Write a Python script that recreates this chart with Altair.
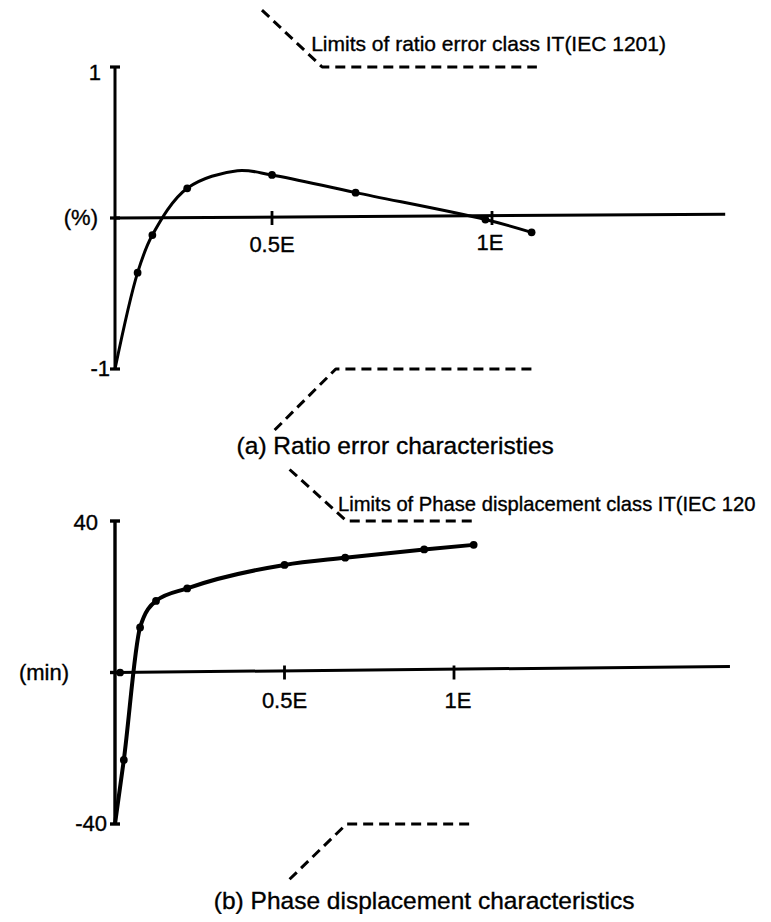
import altair as alt
import pandas as pd

FONT = "Liberation Sans"

# ---------------- Panel (a): ratio error ----------------
a_curve_x = [0.0, 0.072, 0.119, 0.230, 0.39, 0.50, 0.69, 0.985, 1.09]
a_curve_y = [-1.0, -0.362, -0.113, 0.197, 0.313, 0.285, 0.168, -0.01, -0.095]
a_point_x = [0.072, 0.119, 0.230, 0.50, 0.69, 0.985, 1.09]
a_point_y = [-0.362, -0.113, 0.197, 0.285, 0.168, -0.01, -0.095]
a_upper_x = [0.468, 0.614, 1.102]
a_upper_y = [1.377, 1.0, 1.0]
a_lower_x = [0.506, 0.645, 1.097]
a_lower_y = [-1.404, -1.0, -1.0]
a_axis_x = [0.0, 1.53]
a_axis_y = [0.0, 0.025]
a_tick_vals = [0.5, 1.0]
a_tick_labels = ["0.5E", "1E"]
a_ylabels = ["1", "(%)", "-1"]
a_ylabel_vals = [1.0, 0.0, -1.0]
a_limit_text = "Limits of ratio error class IT(IEC 1201)"
a_caption = "(a) Ratio error characteristies"

# ---------------- Panel (b): phase displacement ----------------
b_curve_x = [0.0, 0.026, 0.074, 0.121, 0.213, 0.50, 0.679, 0.912, 1.058]
b_curve_y = [-40.0, -23.1, 11.9, 18.9, 22.2, 28.4, 30.3, 32.5, 33.7]
b_point_x = [0.015, 0.026, 0.074, 0.121, 0.213, 0.50, 0.679, 0.912, 1.058]
b_point_y = [0.0, -23.1, 11.9, 18.9, 22.2, 28.4, 30.3, 32.5, 33.7]
b_upper_x = [0.515, 0.683, 1.062]
b_upper_y = [53.6, 40.0, 40.0]
b_lower_x = [0.515, 0.683, 1.062]
b_lower_y = [-54.6, -40.0, -40.0]
b_axis_x = [0.0, 1.814]
b_axis_y = [0.0, 1.6]
b_tick_vals = [0.5, 1.0]
b_tick_labels = ["0.5E", "1E"]
b_ylabels = ["40", "(min)", "-40"]
b_ylabel_vals = [40.0, 0.0, -40.0]
b_limit_text = "Limits of Phase displacement class IT(IEC 120"
b_caption = "(b) Phase displacement characteristics"

XA = alt.Scale(domain=[0, 0.5, 1.0, 1.5], range=[107, 264, 484, 704], nice=False, zero=False)
YA = alt.Scale(domain=[-1, 1], range=[361, 59], nice=False, zero=False)
XB = alt.Scale(domain=[0, 1], range=[107, 446], nice=False, zero=False)
YB = alt.Scale(domain=[-40, 40], range=[816, 513], nice=False, zero=False)


def enc(xs, ys):
    return dict(x=alt.X("x:Q", scale=xs, axis=None), y=alt.Y("y:Q", scale=ys, axis=None))


def line(xv, yv, xs, ys, width, dash=None, interp="linear"):
    kw = dict(color="black", strokeWidth=width, interpolate=interp, strokeCap="butt", strokeJoin="round")
    if dash:
        kw["strokeDash"] = dash
    d = pd.DataFrame({"x": xv, "y": yv, "o": list(range(len(xv)))})
    return alt.Chart(d).mark_line(**kw).encode(order="o:Q", **enc(xs, ys))


def points(xv, yv, xs, ys, size):
    d = pd.DataFrame({"x": xv, "y": yv})
    return alt.Chart(d).mark_circle(size=size, color="black", opacity=1).encode(**enc(xs, ys))


def yaxis(xs, ys, lo, hi, width):
    d = pd.DataFrame({"x": [0.0], "y": [lo], "y2": [hi]})
    return alt.Chart(d).mark_rule(color="black", strokeWidth=width).encode(
        y2="y2:Q", **enc(xs, ys))


def hticks(vals, xs, ys, width):
    d = pd.DataFrame({"x": [0.0] * len(vals), "x2": [0.0] * len(vals), "y": vals})
    return alt.Chart(d).mark_rule(color="black", strokeWidth=width, xOffset=-5, x2Offset=5).encode(
        x2="x2:Q", **enc(xs, ys))


def vticks(vals, xs, ys, width):
    d = pd.DataFrame({"x": vals, "y": [0.0] * len(vals), "y2": [0.0] * len(vals)})
    return alt.Chart(d).mark_rule(color="black", strokeWidth=width, yOffset=-7, y2Offset=7).encode(
        y2="y2:Q", **enc(xs, ys))


def text(t, xv, yv, xs, ys, size=22, align="center", dx=0, dy=0):
    d = pd.DataFrame({"x": [xv], "y": [yv], "t": [t]})
    return alt.Chart(d).mark_text(font=FONT, fontSize=size, align=align, baseline="middle",
                                  dx=dx, dy=dy, color="black", stroke="black",
                                  strokeWidth=0.35).encode(text="t:N", **enc(xs, ys))


dash = [10, 6]

panel_a = alt.layer(
    yaxis(XA, YA, -1.0, 1.0, 3),
    hticks(a_ylabel_vals, XA, YA, 3.2),
    line(a_axis_x, a_axis_y, XA, YA, 3),
    vticks(a_tick_vals, XA, YA, 2.8),
    line(a_curve_x, a_curve_y, XA, YA, 3, interp="catmull-rom"),
    points(a_point_x, a_point_y, XA, YA, 60),
    line(a_upper_x, a_upper_y, XA, YA, 3, dash=dash),
    line(a_lower_x, a_lower_y, XA, YA, 3, dash=dash),
    text(a_ylabels[0], 0.0, a_ylabel_vals[0], XA, YA, align="right", dx=-14, dy=6),
    text(a_ylabels[1], 0.0, a_ylabel_vals[1], XA, YA, align="right", dx=-17),
    text(a_ylabels[2], 0.0, a_ylabel_vals[2], XA, YA, align="right", dx=-5),
    text(a_tick_labels[0], a_tick_vals[0], 0.0, XA, YA, dy=27),
    text(a_tick_labels[1], a_tick_vals[1], 0.0, XA, YA, dx=-2, dy=25),
    text(a_limit_text, 0.589, 1.146, XA, YA, size=21, align="left"),
    text(a_caption, 0.78, -1.517, XA, YA, size=24.5),
)

panel_b = alt.layer(
    yaxis(XB, YB, -40.0, 40.0, 3.4),
    hticks(b_ylabel_vals, XB, YB, 3.4),
    line(b_axis_x, b_axis_y, XB, YB, 3),
    vticks(b_tick_vals, XB, YB, 2.8),
    line(b_curve_x, b_curve_y, XB, YB, 4, interp="monotone"),
    points(b_point_x, b_point_y, XB, YB, 60),
    line(b_upper_x, b_upper_y, XB, YB, 3, dash=dash),
    line(b_lower_x, b_lower_y, XB, YB, 3, dash=dash),
    text(b_ylabels[0], 0.0, b_ylabel_vals[0], XB, YB, align="right", dx=-17, dy=2),
    text(b_ylabels[1], 0.0, b_ylabel_vals[1], XB, YB, align="right", dx=-46),
    text(b_ylabels[2], 0.0, b_ylabel_vals[2], XB, YB, align="right", dx=-8),
    text(b_tick_labels[0], b_tick_vals[0], 0.0, XB, YB, dy=28),
    text(b_tick_labels[1], b_tick_vals[1], 0.0, XB, YB, dx=4, dy=28),
    text(b_limit_text, 0.658, 44.3, XB, YB, size=20.2, align="left"),
    text(b_caption, 0.912, -60.7, XB, YB, size=24.5),
)

chart = alt.layer(panel_a, panel_b).resolve_scale(
    x="independent", y="independent"
).properties(
    width=755, height=906, padding=0,
    autosize=alt.AutoSizeParams(type="none"),
    background="white",
).configure_view(stroke=None)

chart.save("out.html", embed_options={"renderer": "svg", "actions": False})
